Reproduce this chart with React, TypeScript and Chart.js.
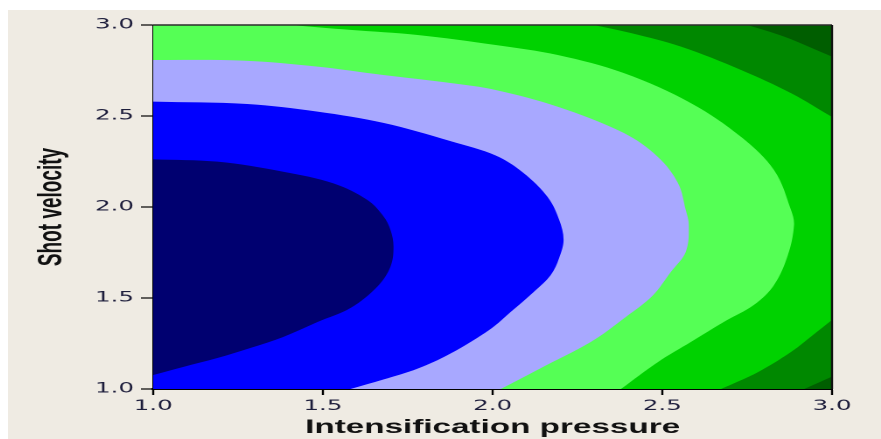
import React, { useEffect, useRef } from 'react';
import { Chart, registerables } from 'chart.js';

Chart.register(...registerables);

// ---- axes ----
const X_RANGE = [1.0, 3.0];
const Y_RANGE = [1.0, 3.0];
const X_TICKS = [1.0, 1.5, 2.0, 2.5, 3.0];
const Y_TICKS = [1.0, 1.5, 2.0, 2.5, 3.0];
const X_TITLE = 'Intensification pressure';
const Y_TITLE = 'Shot velocity';

// ---- contour band colours (innermost -> outermost) ----
const BAND_COLORS = ['#000070', '#0000FF', '#A8A8FF', '#55FF55', '#00D200', '#008800', '#005E00'];

// ---- contour boundaries ----
// (the last / edge points continue a little past the plot frame and are clipped)
// level 1: navy | blue
const c1X = [1.0, 1.189, 1.383, 1.531, 1.630, 1.678, 1.699, 1.708, 1.699, 1.660, 1.581, 1.484, 1.383, 1.286, 1.189, 1.088, 1.0];
const c1Y = [2.262, 2.249, 2.194, 2.130, 2.040, 1.950, 1.874, 1.782, 1.672, 1.562, 1.445, 1.368, 1.286, 1.225, 1.170, 1.121, 1.077];
// level 2: blue | lavender
const c2X = [1.0, 1.277, 1.484, 1.678, 1.876, 2.009, 2.091, 2.162, 2.196, 2.209, 2.196, 2.171, 2.121, 2.053, 1.994, 1.876, 1.779, 1.678, 1.581, 1.48];
const c2Y = [2.579, 2.566, 2.524, 2.462, 2.362, 2.283, 2.187, 2.055, 1.930, 1.820, 1.720, 1.626, 1.533, 1.423, 1.330, 1.195, 1.112, 1.052, 1.0, 0.946];
// level 3: lavender | light green
const c3X = [1.0, 1.265, 1.484, 1.678, 1.876, 2.009, 2.192, 2.386, 2.487, 2.546, 2.569, 2.578, 2.569, 2.525, 2.470, 2.392, 2.289, 2.142, 2.024, 1.95];
const c3Y = [2.808, 2.804, 2.771, 2.725, 2.681, 2.643, 2.551, 2.407, 2.275, 2.132, 1.984, 1.901, 1.753, 1.643, 1.510, 1.395, 1.258, 1.115, 1.0, 0.928];
// level 4: light green | green
const c4X = [1.404, 1.581, 1.779, 2.009, 2.192, 2.386, 2.584, 2.732, 2.829, 2.879, 2.888, 2.870, 2.829, 2.770, 2.681, 2.584, 2.487, 2.378, 2.30];
const c4Y = [3.0, 2.973, 2.945, 2.890, 2.835, 2.736, 2.571, 2.385, 2.203, 1.984, 1.901, 1.736, 1.571, 1.462, 1.368, 1.258, 1.148, 1.0, 0.894];
// level 5: green | dark green
const c5X = [2.298, 2.407, 2.555, 2.732, 2.879, 3.0, 3.1, 3.1, 3.0, 2.944, 2.879, 2.782, 2.673, 2.60];
const c5Y = [3.0, 2.956, 2.881, 2.753, 2.626, 2.495, 2.387, 1.525, 1.379, 1.297, 1.203, 1.093, 1.0, 0.938];
// level 6: dark green | darkest green
const c6X = [2.751, 2.859, 3.0, 3.1, 3.1, 3.0, 2.958, 2.918, 2.85];
const c6Y = [3.0, 2.936, 2.826, 2.748, 1.151, 1.068, 1.033, 1.0, 0.94];

const BEIGE = '#EFEBE3';
const CANVAS_W = 499;
const BOX_W = 873;
const BOX_H = 429;

type P = { x: number; y: number };
const pts = (xs: number[], ys: number[]): P[] => xs.map((x, i) => ({ x, y: ys[i] }));
const M = 0.1;
const OBL: P = { x: X_RANGE[0] - M, y: Y_RANGE[0] - M };
const OTL: P = { x: X_RANGE[0] - M, y: Y_RANGE[1] + M };
const BL: P = { x: X_RANGE[0], y: Y_RANGE[0] };
const TL: P = { x: X_RANGE[0], y: Y_RANGE[1] };
const TR: P = { x: X_RANGE[1], y: Y_RANGE[1] };
const BR: P = { x: X_RANGE[1], y: Y_RANGE[0] };

const polygons: P[][] = [
  pts(c1X, c1Y),
  [...pts(c2X, c2Y), OBL],
  [...pts(c3X, c3Y), OBL],
  [...pts(c4X, c4Y), OBL, OTL],
  [...pts(c5X, c5Y), OBL, OTL],
  [...pts(c6X, c6Y), OBL, OTL],
  [BL, TL, TR, BR],
];

const framePlugin = {
  id: 'frameLines',
  afterDraw(chart: any) {
    const { ctx, chartArea: a } = chart;
    ctx.save();
    ctx.strokeStyle = '#2c2c2c';
    ctx.lineWidth = 1.5;
    ctx.beginPath();
    ctx.moveTo(a.left, a.top);
    ctx.lineTo(a.right, a.top);
    ctx.stroke();
    ctx.strokeStyle = '#111111';
    ctx.lineWidth = 1.2;
    ctx.beginPath();
    ctx.moveTo(a.right, a.top);
    ctx.lineTo(a.right, a.bottom);
    ctx.stroke();
    ctx.restore();
  },
};

export default function App() {
  const ref = useRef<HTMLCanvasElement>(null);

  useEffect(() => {
    if (!ref.current) return;
    const tickFont = { family: '"DejaVu Sans", Verdana, sans-serif', size: 14 };
    const titleFont = { family: '"Liberation Sans", Arial, sans-serif', size: 19, weight: 'bold' as const };
    const chart = new Chart(ref.current, {
      type: 'line',
      data: {
        datasets: polygons.map((poly, i) => ({
          data: poly,
          fill: 'shape' as any,
          backgroundColor: BAND_COLORS[i],
          borderColor: 'rgba(0,0,0,0)',
          borderWidth: 0,
          pointRadius: 0,
          clip: 0,
          tension: i === polygons.length - 1 ? 0 : 0.35,
          order: i,
        })),
      },
      options: {
        animation: false,
        responsive: true,
        maintainAspectRatio: false,
        devicePixelRatio: 2,
        events: [],
        layout: { padding: { left: 0, top: 15, right: 28, bottom: 0 } },
        plugins: { legend: { display: false }, tooltip: { enabled: false } },
        scales: {
          x: {
            type: 'linear',
            min: X_RANGE[0],
            max: X_RANGE[1],
            z: 1,
            afterBuildTicks: (s: any) => { s.ticks = X_TICKS.map((v) => ({ value: v })); },
            afterFit: (s: any) => { s.height = 50; },
            ticks: {
              autoSkip: false,
              maxRotation: 0,
              padding: 3,
              color: '#1e1e3c',
              font: tickFont,
              callback: (v: any) => Number(v).toFixed(1),
            },
            grid: { drawOnChartArea: false, drawTicks: true, tickLength: 6, tickColor: '#000', tickWidth: 1.2 },
            border: { display: true, color: '#000', width: 2 },
            title: { display: true, text: X_TITLE, color: '#111', font: titleFont, padding: { top: 0, bottom: 0 } },
          },
          y: {
            type: 'linear',
            min: Y_RANGE[0],
            max: Y_RANGE[1],
            z: 1,
            afterBuildTicks: (s: any) => { s.ticks = Y_TICKS.map((v) => ({ value: v })); },
            afterFit: (s: any) => { s.width = 83; },
            ticks: {
              autoSkip: false,
              padding: 4,
              color: '#1e1e3c',
              font: tickFont,
              callback: (v: any) => Number(v).toFixed(1),
            },
            grid: { drawOnChartArea: false, drawTicks: true, tickLength: 7, tickColor: '#000', tickWidth: 1.2 },
            border: { display: true, color: '#000', width: 1.2 },
            title: { display: true, text: Y_TITLE, color: '#111', font: titleFont, padding: { top: 14, bottom: 0 } },
          },
        },
      },
      plugins: [framePlugin],
    });
    return () => chart.destroy();
  }, []);

  return (
    <div
      style={{
        position: 'fixed',
        left: 8,
        top: 10,
        width: BOX_W,
        height: BOX_H,
        background: BEIGE,
        overflow: 'hidden',
      }}
    >
      <div
        style={{
          position: 'relative',
          width: CANVAS_W,
          height: BOX_H,
          transform: `scaleX(${BOX_W / CANVAS_W})`,
          transformOrigin: '0 0',
        }}
      >
        <canvas ref={ref} />
      </div>
    </div>
  );
}
